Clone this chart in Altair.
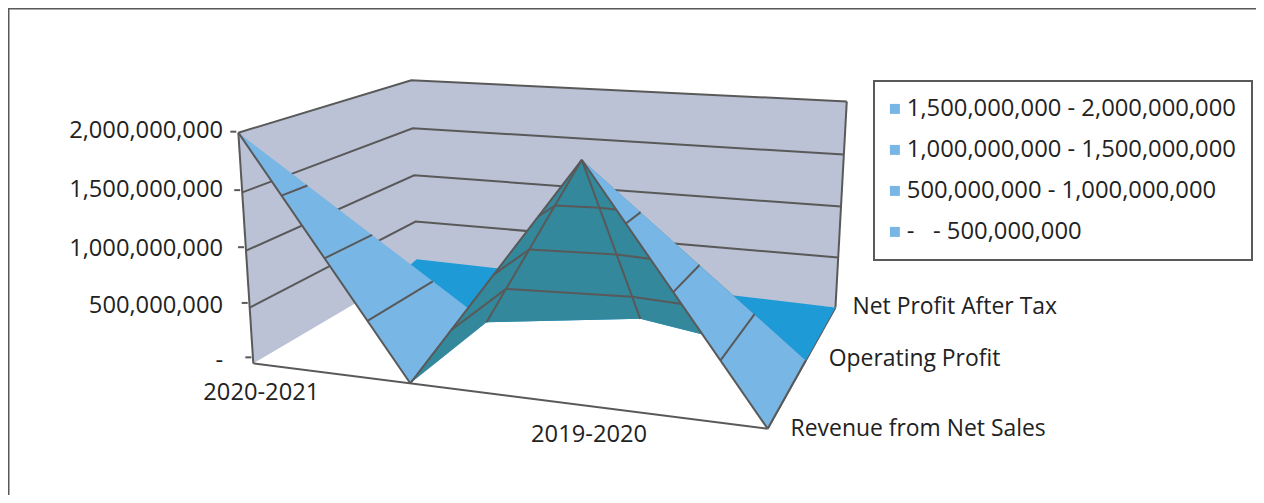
import altair as alt
import numpy as np

# ---- chart data -------------------------------------------------------
CATEGORIES = ["2020-2021", "", "2019-2020", ""]
SERIES = ["Revenue from Net Sales", "Operating Profit", "Net Profit After Tax"]
REVENUE = [2.0e9, 0.0, 1.964e9, 0.0]
OPERATING = [0.0, 3.0e7, 2.2e8, 0.0]
NET_PROFIT = [8.5e7, 6.0e7, 3.0e7, 0.0]
Z_TICKS = [0.0, 5e8, 1e9, 1.5e9, 2e9]
Z_TICK_LABELS = ["-", "500,000,000", "1,000,000,000", "1,500,000,000", "2,000,000,000"]
LEGEND_LABELS = ["1,500,000,000 - 2,000,000,000", "1,000,000,000 - 1,500,000,000",
                 "500,000,000 - 1,000,000,000", "-\u00a0\u00a0 - 500,000,000"]
Z_MAX = 2e9

# ---- styling ----------------------------------------------------------
WALL = "#BBC2D5"; LINE = "#595959"; LIGHT = "#78B6E5"; DARK = "#1E9AD6"; TEAL = "#33889C"
INK = "#222222"; FONT = "Open Sans"; FS = 23.7; FS_SERIES = 22.9
W, H = 1248, 487

# ---- camera of the 3-D view (perspective projection of the unit box) ---
CAM = np.array([[421.009, 267.347, -25.81, 253.304],
                [13.2164, -30.1065, -236.714, 363.349],
                [-0.121555, 0.248658, -0.0455216, 1.0]])

def proj(u, v, z):
    p = CAM @ np.array([u, v, z / Z_MAX, 1.0])
    return [float(p[0]/p[2]) - 8, float(p[1]/p[2]) - 8]

ROWS = [REVENUE, OPERATING, NET_PROFIT]
def vert(i, j):
    return (i/3, j/2, ROWS[j][i])

def line(pts, **props):
    return {"type":"Feature","properties":props,
            "geometry":{"type":"LineString","coordinates":[proj(*p) for p in pts]}}
def poly(pts, **props):
    c = [proj(*p) for p in pts]; c.append(c[0])
    return {"type":"Feature","properties":props,
            "geometry":{"type":"Polygon","coordinates":[c]}}

def lerp(a, b, t):
    return tuple(a[k] + (b[k]-a[k])*t for k in range(3))

def clip_band(tri, lo, hi):
    out = list(tri)
    for lim, sgn in ((lo, 1), (hi, -1)):
        res = []
        for k in range(len(out)):
            a, b = out[k], out[(k+1) % len(out)]
            da, db = sgn*(a[2]-lim), sgn*(b[2]-lim)
            if da >= 0: res.append(a)
            if (da >= 0) != (db >= 0): res.append(lerp(a, b, da/(da-db)))
        out = res
        if not out: break
    return out

def contours(tri):
    segs = []
    for L in Z_TICKS[1:-1]:
        c = []
        for k in range(3):
            a, b = tri[k], tri[(k+1) % 3]
            if (a[2] < L) != (b[2] < L):
                c.append(lerp(a, b, (L-a[2])/(b[2]-a[2])))
        if len(c) == 2: segs.append(line(c))
    return segs

def bands(t):
    out = []
    for k, lab in enumerate(reversed(LEGEND_LABELS)):
        c = clip_band(t, Z_TICKS[k], Z_TICKS[k+1])
        if len(c) >= 3: out.append(poly(c, band=lab))
    return out

# walls
walls = [poly([(0,0,0),(0,1,0),(1,1,0),(1,1,Z_MAX),(0,1,Z_MAX),(0,0,Z_MAX)])]
wall_lines = [line([(0,0,z),(0,1,z),(1,1,z)]) for z in Z_TICKS[1:]]
wall_lines += [line([(0,0,0),(0,0,Z_MAX)]), line([(1,1,0),(1,1,Z_MAX)]),
               line([(0,0,0),(1,0,0)]), line([(1,0,0),(1,1,0)])]

# surface vertices
a, b, p, e = vert(0,0), vert(1,0), vert(2,0), vert(3,0)
d, h, f = vert(1,1), vert(2,1), vert(3,1)
g0, g1, g2, g3 = vert(0,2), vert(1,2), vert(2,2), vert(3,2)
wall_clip = (0, 0.8, 0.0)

floor_poly = [poly([g0, g1, g2, g3, f, h, d, wall_clip])]
under = [(p,b,d),(p,d,h),(p,h,f)]
teal = [poly(t) for t in under]
teal_lines = [s for t in under for s in contours(t)] + [line([p,d]), line([p,h]), line([p,b])]
left_tri, right_tri = (a,b,d), (p,e,f)
left_lines = contours(left_tri) + [line([a,b])]
right_lines = contours(right_tri) + [line([p,e]), line([e,f])]

def tick_feature(z):
    x, y = proj(0,0,z)
    yy = y - 6 + 5*z/Z_MAX
    return {"type":"Feature","properties":{},"geometry":{"type":"LineString",
            "coordinates":[[x-8,yy],[x-2,yy]]}}
ticks = [tick_feature(z) for z in Z_TICKS]
frame = [{"type":"Feature","properties":{},"geometry":{"type":"LineString",
          "coordinates":[[0.5,H],[0.5,0.5],[W,0.5]]}}]

def geo(features):
    return alt.Chart(alt.Data(values=features))
def fill(features, color):
    return geo(features).mark_geoshape(fill=color, strokeWidth=0)
def stroke(features, width=2):
    return geo(features).mark_geoshape(filled=False, stroke=LINE, strokeWidth=width)

color_enc = alt.Color("properties.band:N",
    scale=alt.Scale(domain=LEGEND_LABELS, range=[LIGHT]*4),
    legend=alt.Legend(title=None, orient="none", legendX=874-8, legendY=81-8,
                      symbolType="square", symbolSize=100, symbolStrokeWidth=0,
                      symbolOffset=-7,
                      labelFont=FONT, labelFontSize=23.8, labelColor=INK, labelLimit=500,
                      fillColor="white", strokeColor=LINE, padding=16, rowPadding=16,
                      labelOffset=0))
def light_layer(t):
    return geo(bands(t)).mark_geoshape(strokeWidth=0).encode(color=color_enc)

text_rows = []
for z, lab in zip(Z_TICKS, Z_TICK_LABELS):
    x, y = proj(0,0,z)
    text_rows.append({"lon": 223-8, "lat": y-2, "t": lab, "a": "right"})
def series_label(j, dx, dy):
    x, y = proj(1, j/2, 0)
    text_rows.append({"lon": x+dx, "lat": y+dy, "t": SERIES[j], "a": "left"})
series_label(0, 23, 0); series_label(1, 23, -2); series_label(2, 17, 0)
for i, cat in enumerate(CATEGORIES):
    if cat:
        x, y = proj(i/3, 0, 0)
        text_rows.append({"lon": x+8, "lat": y+30, "t": cat, "a": "center"})

def text_layer(al):
    rows = [r for r in text_rows if r["a"] == al]
    return alt.Chart(alt.Data(values=rows)).mark_text(
        align=al, baseline="middle", font=FONT, fontSize=FS_SERIES if al == "left" else FS, color=INK
    ).encode(longitude="lon:Q", latitude="lat:Q", text="t:N")

chart = alt.layer(
    stroke(frame), fill(walls, WALL), stroke(wall_lines), fill(floor_poly, DARK),
    light_layer(left_tri), stroke(left_lines), fill(teal, TEAL), stroke(teal_lines),
    light_layer(right_tri), stroke(right_lines), stroke(ticks),
    text_layer("right"), text_layer("left"), text_layer("center"),
).project(type="identity", scale=1, translate=[0,0]).properties(
    width=W, height=H, padding=0, autosize=alt.AutoSizeParams(type="none")
).configure_view(stroke=None).configure_legend(strokeWidth=2)

chart.save("out.html", embed_options={"renderer": "svg", "actions": False})
